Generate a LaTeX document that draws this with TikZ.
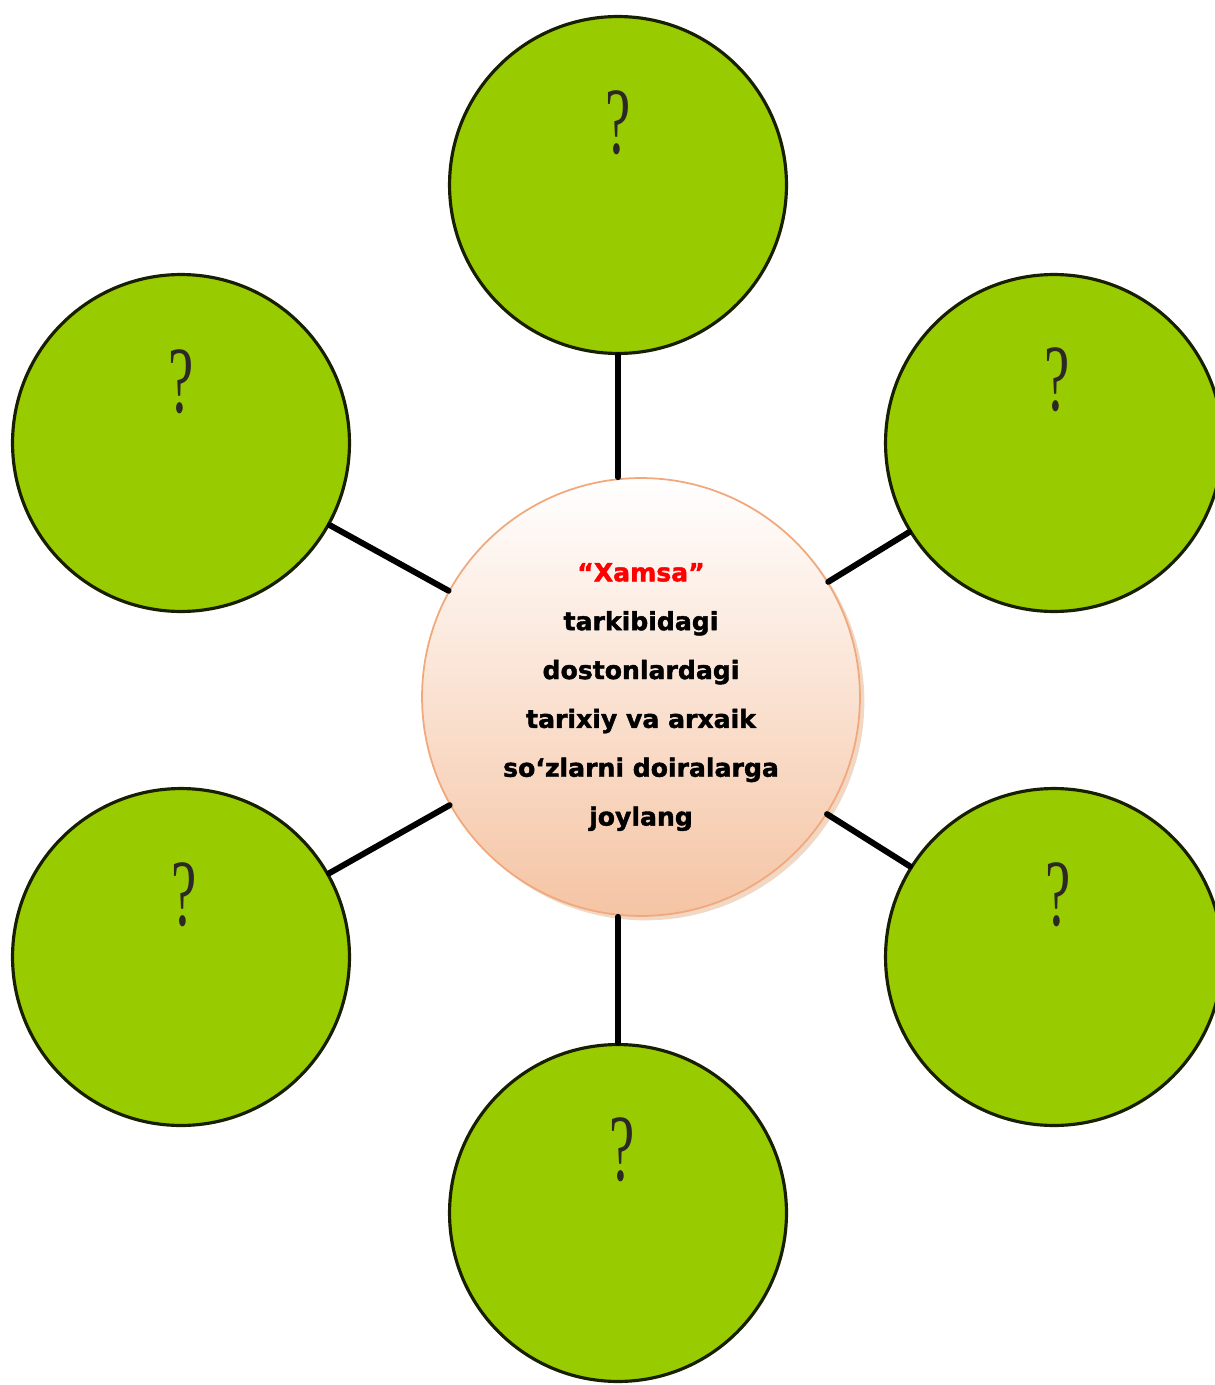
\documentclass[tikz,border=0pt]{standalone}
\usepackage{fontspec}
\setmainfont{Liberation Serif}
\newfontfamily\heavyfont[BoldFeatures={FakeBold=1.6}]{DejaVu Sans}
\usetikzlibrary{shadows}
\definecolor{leaf}{RGB}{153,204,0}
\definecolor{peach}{RGB}{245,196,164}
\definecolor{peachline}{RGB}{240,168,124}
\begin{document}
\begin{tikzpicture}[x=0.02cm,y=-0.02cm, line join=round, line cap=round,
		bubble/.style={circle, draw=black!85!leaf, line width=1.8pt, fill=leaf, minimum size=6.74cm, inner sep=0pt},
		ask/.style={font=\fontsize{54}{54}\selectfont, xscale=0.6, text=black!92!olive, inner sep=0pt},
		link/.style={line width=3.4pt}]
			\useasboundingbox (0,0) rectangle (1214,1385);
			% outer circles
			\foreach \n/\x/\y in {top/618/185, ul/181/443, ur/1054/443, ll/181/957, lr/1054/957, bot/618/1213}
			\node[bubble] (\n) at (\x,\y) {};
			\foreach \n/\x/\y in {qtop/618/123, qul/181/382, qur/1057/380, qll/184/895, qlr/1058/895, qbot/622/1150}
			\node[ask] (\n) at (\x,\y) {?};
			% centre circle
			\node[circle, minimum size=8.76cm, inner sep=0pt, top color=white, bottom color=peach, draw=peachline, line width=1pt,
				drop shadow={shadow xshift=2.5pt, shadow yshift=-2.5pt, fill=peach!60!brown, opacity=.45},
				align=center, font=\heavyfont\bfseries\fontsize{14.3}{27.8}\selectfont] (mid) at (641,697)
				{\textcolor{red}{“Xamsa”}\\tarkibidagi\\dostonlardagi\\tarixiy va arxaik\\so‘zlarni doiralarga\\joylang};
			% connectors
			\draw[link] (top.south) -- (top.south |- mid.north);
			\draw[link] (bot.north) -- (bot.north |- mid.south);
			\foreach \n in {ul,ur,ll,lr}
			\draw[link] (\n) -- (mid);
		\end{tikzpicture}
\end{document}
